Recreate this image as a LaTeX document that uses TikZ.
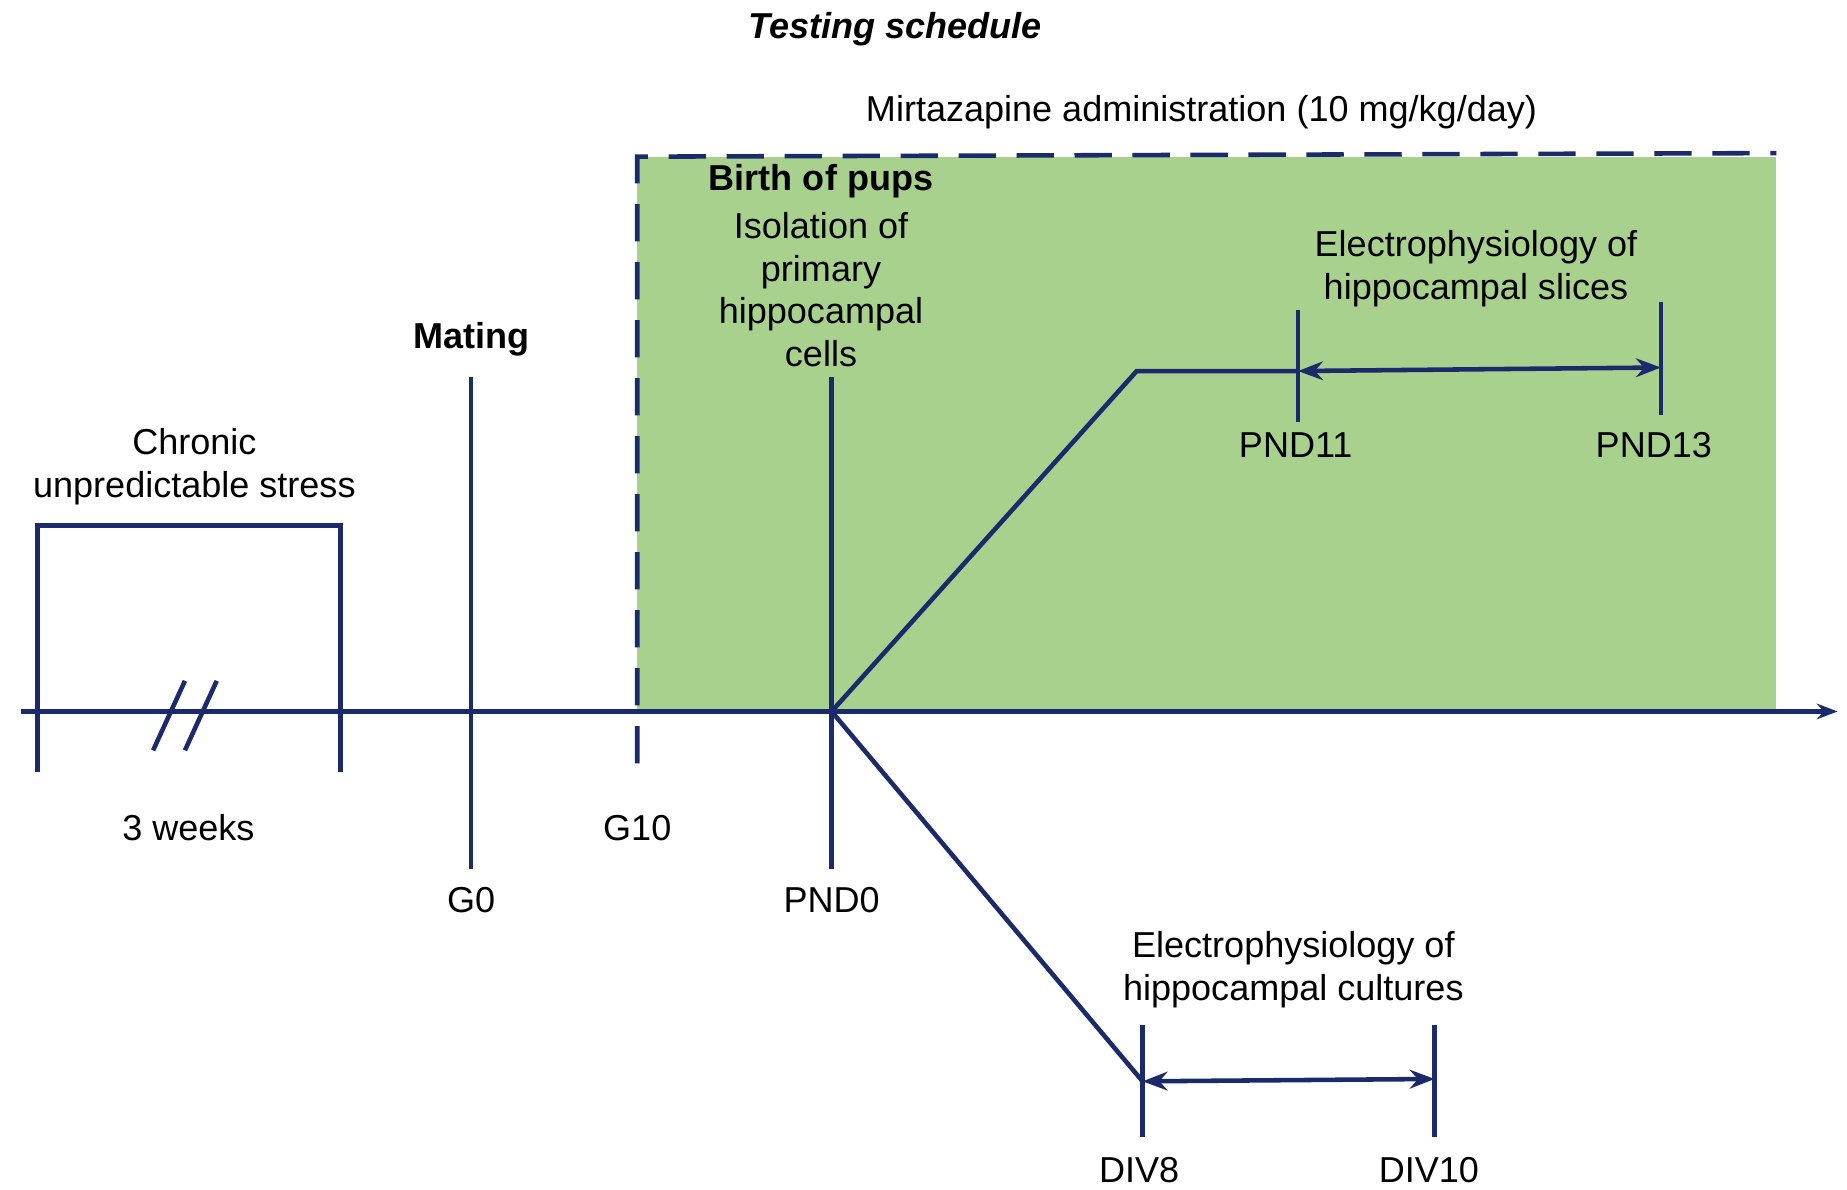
\documentclass[tikz,border=0pt]{standalone}
\usepackage{fontspec}
\setmainfont{Liberation Sans}
\usetikzlibrary{arrows.meta}
\definecolor{navy}{HTML}{1B2A6B}
\definecolor{grn}{HTML}{A9D18E}
\begin{document}
\begin{tikzpicture}[x=0.01cm,y=-0.01cm,
  ln/.style={navy,line width=1.1pt},
  lb/.style={font=\fontsize{8.7}{10.3}\selectfont,inner sep=0pt,align=center},
  bl/.style={lb,font=\fontsize{8.7}{10.3}\selectfont\bfseries}]
\useasboundingbox (0,0) rectangle (1568,1010);
\fill[grn] (541,133) rectangle (1508,604);
\draw[ln,dash pattern=on 9pt off 5pt] (541,648) -- (541,133) -- (1508,130);
\node[lb,font=\fontsize{8.7}{10.3}\selectfont\bfseries\itshape] (title) at (760,25) {Testing schedule};
\node[lb] (mirt) at (1020,95) {Mirtazapine administration (10 mg/kg/day)};
\coordinate (a0) at (18,604); \coordinate (a1) at (1560,604);
\draw[ln,-{Stealth[length=5pt]}] (a0) -- (a1);
% stress bracket
\draw[ln] (32,655) -- (32,446) -- (289,446) -- (289,655);
\draw[ln] (130,637) -- (157,578) (157,637) -- (184,578);
\node[lb] (cus) at (165,396) {Chronic\\unpredictable stress};
\node[lb] (wk) at (160,703) {3 weeks};
% mating
\coordinate (m0) at (400,320); \coordinate (m1) at (400,738);
\draw[ln] (m0) -- (m1);
\node[bl] (mat) at (400,288) {Mating};
\node[lb] (g0) at (400,764) {G0};
\node[lb] (g10) at (541,703) {G10};
% PND0
\coordinate (p0) at (706,320); \coordinate (p1) at (706,738); \coordinate (o) at (706,604);
\draw[ln] (p0) -- (p1);
\node[bl] (birth) at (697,154) {Birth of pups};
\node[lb] (iso) at (697,246) {Isolation of\\primary\\hippocampal\\cells};
\node[lb] (pnd0) at (706,764) {PND0};
% upper branch
\coordinate (u1) at (965,315); \coordinate (u2) at (1102,315); \coordinate (u3) at (1410,312);
\draw[ln] (o) -- (u1) -- (u2);
\draw[ln,{Stealth[length=6pt]}-{Stealth[length=6pt]}] (u2) -- (u3);
\draw[ln] (1102,263) -- (1102,358) (1410,256) -- (1410,352);
\node[lb] (p11) at (1100,378) {PND11};
\node[lb] (p13) at (1404,378) {PND13};
\node[lb] (es) at (1253,228) {Electrophysiology of\\hippocampal slices};
% lower branch
\coordinate (l1) at (970,918); \coordinate (l2) at (1218,916);
\draw[ln] (o) -- (l1);
\draw[ln,{Stealth[length=6pt]}-{Stealth[length=6pt]}] (l1) -- (l2);
\draw[ln] (970,870) -- (970,965) (1218,870) -- (1218,965);
\node[lb] (d8) at (967,993) {DIV8};
\node[lb] (d10) at (1213,993) {DIV10};
\node[lb] (ec) at (1098,823) {Electrophysiology of\\hippocampal cultures};
\end{tikzpicture}
\end{document}
